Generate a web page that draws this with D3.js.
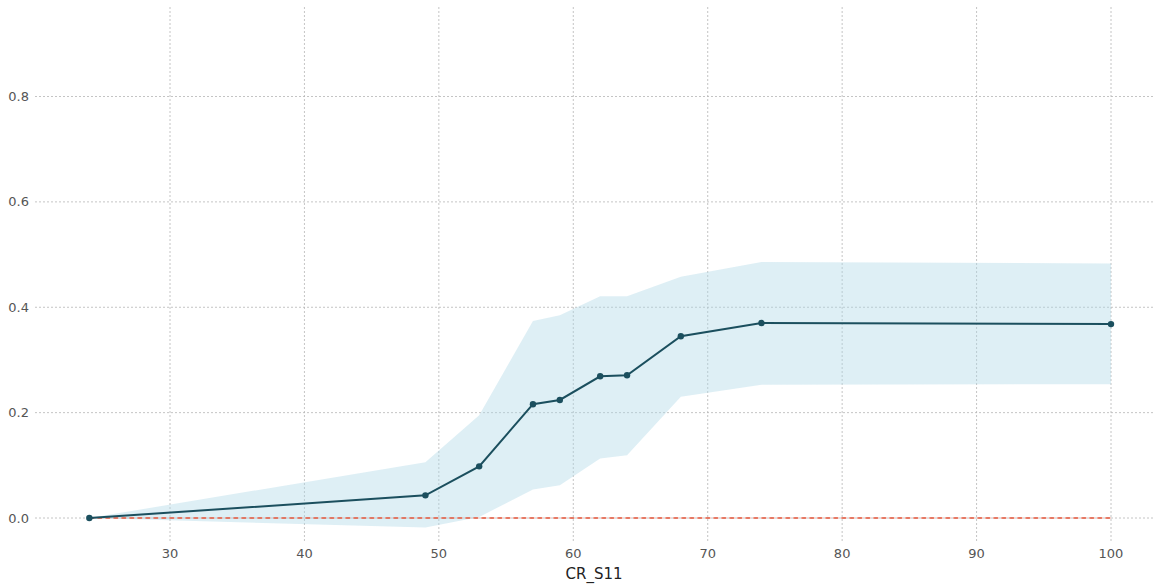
<!DOCTYPE html>
<html>
<head>
<meta charset="utf-8">
<script src="https://cdn.jsdelivr.net/npm/d3@7"></script>
<style>
  body { margin: 0; background: #fff; }
  svg { display: block; font-family: "DejaVu Sans", sans-serif; }
</style>
</head>
<body>
<svg id="chart" width="1155" height="585"></svg>
<script>
// data
const xValues = [24, 49, 53, 57, 59, 62, 64, 68, 74, 100];
const meanValues = [0, 0.043, 0.098, 0.216, 0.224, 0.269, 0.271, 0.345, 0.370, 0.368];
const upperValues = [0, 0.106, 0.195, 0.374, 0.385, 0.421, 0.421, 0.458, 0.486, 0.483];
const lowerValues = [0, -0.018, 0.002, 0.054, 0.062, 0.113, 0.119, 0.230, 0.253, 0.254];
const xTicks = [30, 40, 50, 60, 70, 80, 90, 100];
const yTicks = [0.0, 0.2, 0.4, 0.6, 0.8];
const xLabel = 'CR_S11';

const svg = d3.select('#chart');

const x = d3.scaleLinear().domain([30, 100]).range([170, 1111]);
const y = d3.scaleLinear().domain([0, 0.8]).range([518, 96.5]);

const gridColor = '#b5b5b5';

// grid lines (they run a little past the plot as ticks)
svg.append('g')
  .selectAll('line')
  .data(xTicks)
  .join('line')
    .attr('x1', d => x(d)).attr('x2', d => x(d))
    .attr('y1', 7).attr('y2', 541)
    .attr('stroke', gridColor)
    .attr('stroke-width', 0.8)
    .attr('stroke-dasharray', '2,2');

svg.append('g')
  .selectAll('line')
  .data(yTicks)
  .join('line')
    .attr('x1', 35).attr('x2', 1155)
    .attr('y1', d => y(d)).attr('y2', d => y(d))
    .attr('stroke', gridColor)
    .attr('stroke-width', 0.8)
    .attr('stroke-dasharray', '2,2');

// tick labels
svg.append('g')
  .selectAll('text')
  .data(xTicks)
  .join('text')
    .attr('x', d => x(d))
    .attr('y', 558)
    .attr('text-anchor', 'middle')
    .attr('font-size', 13)
    .attr('fill', '#555')
    .text(d => d);

svg.append('g')
  .selectAll('text')
  .data(yTicks)
  .join('text')
    .attr('x', 29)
    .attr('y', d => y(d))
    .attr('dy', '0.35em')
    .attr('text-anchor', 'end')
    .attr('font-size', 13)
    .attr('fill', '#555')
    .text(d => d.toFixed(1));

svg.append('text')
  .attr('x', 594)
  .attr('y', 579)
  .attr('text-anchor', 'middle')
  .attr('font-size', 15)
  .attr('fill', '#222')
  .text(xLabel);

const rows = xValues.map((v, i) => ({ x: v, m: meanValues[i], lo: lowerValues[i], hi: upperValues[i] }));

// confidence band
const area = d3.area()
  .x(d => x(d.x))
  .y0(d => y(d.lo))
  .y1(d => y(d.hi));

svg.append('path')
  .datum(rows)
  .attr('d', area)
  .attr('fill', '#add8e6')
  .attr('fill-opacity', 0.4);

// zero reference line
svg.append('line')
  .attr('x1', x(xValues[0])).attr('x2', x(xValues[xValues.length - 1]))
  .attr('y1', y(0)).attr('y2', y(0))
  .attr('stroke', '#e4573d')
  .attr('stroke-width', 1.3)
  .attr('stroke-dasharray', '5,3');

// mean line + markers
const line = d3.line()
  .x(d => x(d.x))
  .y(d => y(d.m));

svg.append('path')
  .datum(rows)
  .attr('d', line)
  .attr('fill', 'none')
  .attr('stroke', '#1b4f5e')
  .attr('stroke-width', 2);

svg.append('g')
  .selectAll('circle')
  .data(rows)
  .join('circle')
    .attr('cx', d => x(d.x))
    .attr('cy', d => y(d.m))
    .attr('r', 3.2)
    .attr('fill', '#1b4f5e');
</script>
</body>
</html>
